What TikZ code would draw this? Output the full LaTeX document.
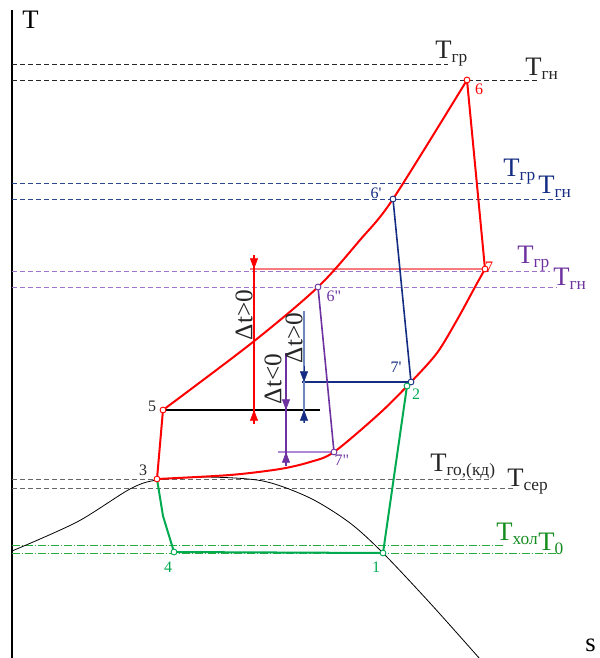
\documentclass[tikz,border=0pt]{standalone}
\usepackage{fontspec}
\setmainfont{Liberation Serif}
\usetikzlibrary{arrows.meta}
\definecolor{cycred}{RGB}{255,0,0}
\definecolor{lightred}{RGB}{245,125,125}
\definecolor{navy}{RGB}{20,45,130}
\definecolor{navylvl}{RGB}{40,70,140}
\definecolor{steel}{RGB}{110,135,190}
\definecolor{violet}{RGB}{110,50,160}
\definecolor{violetlvl}{RGB}{155,115,200}
\definecolor{lightviolet}{RGB}{175,135,215}
\definecolor{cycgreen}{RGB}{0,170,80}
\definecolor{darkgreen}{RGB}{20,140,30}
\definecolor{lvlgreen}{RGB}{40,170,60}
\newcommand{\Tlab}[1]{T\raisebox{-3pt}{\fontsize{13}{14}\selectfont#1}}
\begin{document}
\begin{tikzpicture}[x=0.75pt,y=-0.75pt,
  lvl/.style={dash pattern=on 3.75pt off 2.25pt,line width=0.7pt},
  lvldd/.style={lvlgreen,dash pattern=on 6pt off 1.5pt on 0.8pt off 1.5pt,line width=0.6pt},
  lvllab/.style={anchor=base west,inner sep=0pt,font=\fontsize{20}{22}\selectfont},
  numlab/.style={inner sep=0pt,font=\fontsize{12}{13}\selectfont},
  dtlab/.style={rotate=90,inner sep=0pt,black!85,font=\fontsize{19}{20}\selectfont},
  knot/.style={draw=#1,fill=white,line width=0.7pt},
  tip/.style={-{Triangle[width=6pt,length=8pt]}}]
  \useasboundingbox (0,0) rectangle (600,658);
  % axis
  \draw[line width=1.5pt] (12,10) -- (12,658);
  \node[lvllab] (axT) at (22,28) {T};
  \node[lvllab] (axS) at (585,651) {s};
  % levels
  \draw[lvl,black!85] (12,64) -- (448,64);
  \draw[lvl,black!85] (12,80) -- (537,80);
  \draw[lvl,navylvl] (12,183) -- (523,183);
  \draw[lvl,navylvl] (12,199) -- (563,199);
  \draw[lvl,violetlvl] (12,271) -- (550,271);
  \draw[lvl,violetlvl] (12,287) -- (557,287);
  \draw[lvl,black!60] (12,479) -- (492,479);
  \draw[lvl,black!60] (12,488) -- (513,488);
  \draw[lvldd] (12,545) -- (505,545);
  \draw[lvldd] (12,553) -- (558,553);
  \node[lvllab,black!85] (Tgr) at (435,58) {\Tlab{гр}};
  \node[lvllab,black!85] (Tgn) at (525,75) {\Tlab{гн}};
  \node[lvllab,navy] (Tgr1) at (503,176) {\Tlab{гр}};
  \node[lvllab,navy] (Tgn1) at (538,193) {\Tlab{гн}};
  \node[lvllab,violet] (Tgr2) at (517,263) {\Tlab{гр}};
  \node[lvllab,violet] (Tgn2) at (553,285) {\Tlab{гн}};
  \node[lvllab,black!85] (Tgo) at (430,471) {\Tlab{го,(кд)}};
  \node[lvllab,black!85] (Tser) at (507,486) {\Tlab{сер}};
  \node[lvllab,darkgreen] (Thol) at (496,540) {\Tlab{хол}};
  \node[lvllab,darkgreen] (T0) at (538,550) {\Tlab{0}};
  % states
  \coordinate (p1) at (383,553);
  \coordinate (p2) at (407,386);
  \coordinate (p3) at (157,479);
  \coordinate (p4) at (174,552);
  \coordinate (p5) at (163,410);
  \coordinate (p6) at (467,80);
  \coordinate (p6a) at (393,199);
  \coordinate (p6b) at (318,287);
  \coordinate (p7) at (485,269);
  \coordinate (p7a) at (411,382);
  \coordinate (p7b) at (334,452);
  % saturation curve
  \draw[line width=0.6pt] plot[smooth] coordinates {(12,551) (77,522) (130,489)
    (157,480) (205,477) (263,481) (310,498) (350,523) (383,553) (430,603) (480,659)};
  % helper lines
  \draw[lightred,line width=1.4pt] (250,269) -- (p7);
  \draw[line width=0.8pt] (p5) -- (320,410);
  \draw[navy,line width=1pt] (302,382) -- (p7a);
  \draw[lightviolet,line width=1.2pt] (278,452) -- (p7b);
  % cycles
  \draw[cycgreen,line width=1.5pt] (p3) -- (163,516) -- (p4) -- (p1) -- (p2);
  \draw[navy,line width=1.2pt] (p6a) -- (p7a);
  \draw[violet,line width=1.2pt] (p6b) -- (p7b);
  \draw[cycred,line width=1.5pt] (p3) -- plot[smooth] coordinates {(p5) (253,342)
    (p6b) (360,240) (p6a) (p6)} -- (p7) -- plot[smooth] coordinates {(p7)
    (475,287) (457,320) (437,353) (p7a) (380,413) (p7b) (310,462) (280,469)
    (230,475) (p3)};
  % differences
  \draw[cycred,line width=0.8pt] (254,255) -- (254,424);
  \draw[cycred,tip] (254,255) -- (254,269);
  \draw[cycred,tip] (254,424) -- (254,410);
  \draw[steel,line width=1pt] (304,311) -- (304,423);
  \draw[navy,tip] (304,366) -- (304,382);
  \draw[navy,tip] (304,423) -- (304,410);
  \draw[violet,line width=1pt] (286,353) -- (286,466);
  \draw[violet,tip] (286,394) -- (286,410);
  \draw[violet,tip] (286,466) -- (286,452);
  \node[dtlab] (dt1) at (244,315) {Δt>0};
  \node[dtlab] (dt2) at (294,338) {Δt>0};
  \node[dtlab] (dt3) at (273,379) {Δt<0};
  % points
  \foreach \p/\c in {p3/cycred,p5/cycred,p6/cycred,p7/cycred,p6a/navy,p7a/navy,
    p6b/violet,p7b/violet,p1/cycgreen,p2/cycgreen,p4/cycgreen}
    \draw[knot=\c] (\p) circle (2.2pt);
  \node[numlab,cycred] (l6) at (479,89) {6};
  \node[numlab,cycred] (l7) at (489,267) {7};
  \node[numlab,navy] (l6a) at (376,193) {6\textquotesingle};
  \node[numlab,navy] (l7a) at (396,367) {7\textquotesingle};
  \node[numlab,violet] (l6b) at (334,296) {6\textquotedbl};
  \node[numlab,violet] (l7b) at (342,460) {7\textquotedbl};
  \node[numlab,black!85] (l5) at (152,406) {5};
  \node[numlab,black!85] (l3) at (143,470) {3};
  \node[numlab,cycgreen] (l2) at (416,394) {2};
  \node[numlab,cycgreen] (l4) at (168,567) {4};
  \node[numlab,cycgreen] (l1) at (376,567) {1};
\end{tikzpicture}
\end{document}
